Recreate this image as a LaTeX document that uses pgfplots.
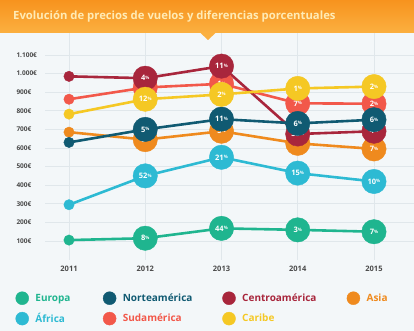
\documentclass[border=0pt]{standalone}
\usepackage{pgfplots}
\usepackage{pgfplotstable}
\pgfplotsset{compat=1.18}
\usepackage{fontspec}
\setmainfont{Open Sans}
\definecolor{cEu}{HTML}{1FB58F}
\definecolor{cNa}{HTML}{105A72}
\definecolor{cCa}{HTML}{A8263C}
\definecolor{cAs}{HTML}{EF8A1E}
\definecolor{cAf}{HTML}{2DBAD3}
\definecolor{cSa}{HTML}{F2584A}
\definecolor{cCb}{HTML}{F5C824}
\definecolor{bg}{HTML}{F3F7F9}
\definecolor{gridc}{HTML}{E0E7EB}
\definecolor{ttop}{HTML}{F7931E}
\definecolor{tbot}{HTML}{FBB040}
\definecolor{ttext}{HTML}{FFEBB5}
\definecolor{tick}{HTML}{4A4A4A}

\pgfplotstableread{
year eu eul na nal ca cal as asl af afl sa sal cb cbl
2011 105 x 630 x 985 x 685 x 295 x 862 x 782 x
2012 115 8 700 5 975 4 645 0 450 52 925 8 862 12
2013 168 44 755 11 1040 11 690 5 550 21 945 1 888 2
2014 160 3 732 6 675 35 625 7 465 15 840 7 920 1
2015 150 7 752 6 690 4 595 7 420 10 838 2 930 2
}\data

\newcommand{\pct}[1]{#1{\raisebox{1.2pt}{\fontsize{4.5}{5}\selectfont\%}}}

\pgfplotsset{
 ln/.style={no marks, line width=2.6pt, color=#1},
 dot/.style={only marks, color=#1, mark=*, mark size=5.2pt, mark options={draw=#1, fill=#1, line width=0.4pt}, restrict x to domain=2010.5:2011.5},
 big/.style={only marks, color=#1, mark=*, mark size=12.2pt, mark options={draw=#1, fill=#1, line width=0.4pt},
   restrict x to domain=2011.5:2015.5, point meta=explicit symbolic,
   nodes near coords={\pct{\pgfplotspointmeta}},
   every node near coord/.style={anchor=center, text=white, font=\bfseries\fontsize{7.5}{8}\selectfont, inner sep=0pt}},
}

\begin{document}
\begin{tikzpicture}
\useasboundingbox (0pt,0pt) rectangle (414pt,331pt);
\fill[bg] (0pt,0pt) rectangle (414pt,331pt);
\begin{axis}[
  at={(45pt,71pt)}, anchor=south west, scale only axis,
  width=369pt, height=227pt,
  xmin=2010.685, xmax=2015.525, ymin=-2, ymax=1218,
  clip=false,
  axis line style={draw=none},
  major tick length=0pt,
  grid=major, grid style={draw=gridc, line width=0.8pt},
  xtick={2011,2012,2013,2014,2015},
  xticklabels={2011,2012,2013,2014,2015},
  ytick={100,200,300,400,500,600,700,800,900,1000,1100},
  yticklabels={100€,200€,300€,400€,500€,600€,700€,800€,900€,1.000€,1.100€},
  yticklabel style={anchor=west, xshift=-32pt, text=tick, font=\bfseries\fontsize{6.5}{7}\selectfont},
  xticklabel style={text=tick, font=\bfseries\fontsize{7.5}{8}\selectfont, yshift=-3pt},
  legend columns=4,
  legend style={at={(-0.0799,-0.1388)}, anchor=north west, draw=none, fill=none,
    column sep=0pt, row sep=7pt, inner sep=0pt, outer sep=0pt,
    font=\bfseries\fontsize{10}{12}\selectfont,
    nodes={inner sep=0pt, anchor=west}},
  legend cell align=left,
]
% lines
\addplot[ln=cEu, forget plot] table[x=year,y=eu]{\data};
\addplot[ln=cAf, forget plot] table[x=year,y=af]{\data};
\addplot[ln=cSa, forget plot] table[x=year,y=sa]{\data};
\addplot[ln=cAs, forget plot] table[x=year,y=as]{\data};
\addplot[ln=cCa, forget plot] table[x=year,y=ca]{\data};
\addplot[ln=cNa, forget plot] table[x=year,y=na]{\data};
\addplot[ln=cCb, forget plot] table[x=year,y=cb]{\data};
% small dots 2011
\addplot[dot=cEu, forget plot] table[x=year,y=eu]{\data};
\addplot[dot=cAf, forget plot] table[x=year,y=af]{\data};
\addplot[dot=cSa, forget plot] table[x=year,y=sa]{\data};
\addplot[dot=cAs, forget plot] table[x=year,y=as]{\data};
\addplot[dot=cCa, forget plot] table[x=year,y=ca]{\data};
\addplot[dot=cNa, forget plot] table[x=year,y=na]{\data};
\addplot[dot=cCb, forget plot] table[x=year,y=cb]{\data};
% big circles
\addplot[big=cEu, forget plot] table[x=year,y=eu,meta=eul]{\data};
\addplot[big=cAf, forget plot] table[x=year,y=af,meta=afl]{\data};
\addplot[big=cSa, forget plot] table[x=year,y=sa,meta=sal]{\data};
\addplot[big=cAs, forget plot] table[x=year,y=as,meta=asl]{\data};
\addplot[big=cCa, forget plot] table[x=year,y=ca,meta=cal]{\data};
\addplot[big=cNa, forget plot] table[x=year,y=na,meta=nal]{\data};
\addplot[big=cCb, forget plot] table[x=year,y=cb,meta=cbl]{\data};
% legend
\addlegendimage{legend image code/.code={\fill[cEu] (6.5pt,0pt) circle (6.5pt);}}
\addlegendentry{\hspace{6.5pt}\makebox[67.5pt][l]{\textcolor{cEu}{Europa}}}
\addlegendimage{legend image code/.code={\fill[cNa] (6.5pt,0pt) circle (6.5pt);}}
\addlegendentry{\hspace{6.5pt}\makebox[99.5pt][l]{\textcolor{cNa}{Norteamérica}}}
\addlegendimage{legend image code/.code={\fill[cCa] (6.5pt,0pt) circle (6.5pt);}}
\addlegendentry{\hspace{6.5pt}\makebox[104.5pt][l]{\textcolor{cCa}{Centroamérica}}}
\addlegendimage{legend image code/.code={\fill[cAs] (6.5pt,0pt) circle (6.5pt);}}
\addlegendentry{\hspace{6.5pt}\textcolor{cAs}{Asia}}
\addlegendimage{legend image code/.code={\fill[cAf] (6.5pt,0pt) circle (6.5pt);}}
\addlegendentry{\hspace{6.5pt}\makebox[67.5pt][l]{\textcolor{cAf}{África}}}
\addlegendimage{legend image code/.code={\fill[cSa] (6.5pt,0pt) circle (6.5pt);}}
\addlegendentry{\hspace{6.5pt}\makebox[99.5pt][l]{\textcolor{cSa}{Sudamérica}}}
\addlegendimage{legend image code/.code={\fill[cCb] (6.5pt,0pt) circle (6.5pt);}}
\addlegendentry{\hspace{6.5pt}\makebox[104.5pt][l]{\textcolor{cCb}{Caribe}}}
\end{axis}
\fill[top color=ttop, bottom color=tbot] (0pt,298pt) rectangle (414pt,331pt);
\fill[tbot] (200pt,298.5pt) -- (216pt,298.5pt) -- (208pt,291pt) -- cycle;
\node[anchor=west, text=ttext, font=\bfseries\fontsize{11.3}{13}\selectfont, inner sep=0pt] at (13pt,314pt) {Evolución de precios de vuelos y diferencias porcentuales};
\end{tikzpicture}
\end{document}
